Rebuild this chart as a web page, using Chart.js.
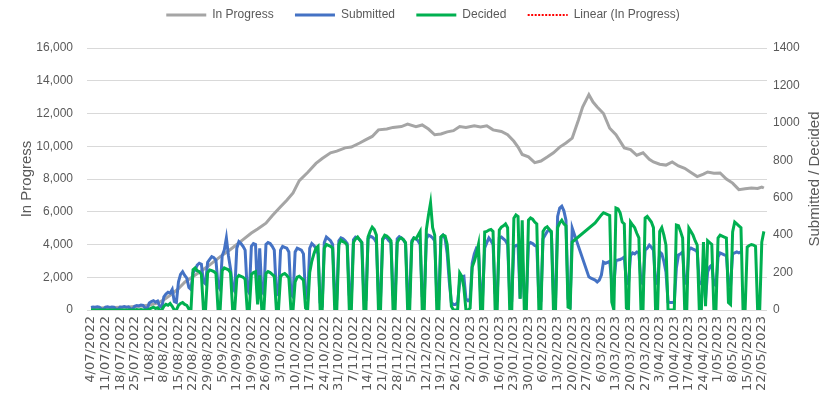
<!DOCTYPE html>
<html><head><meta charset="utf-8">
<script src="https://cdn.jsdelivr.net/npm/chart.js@4.4.0/dist/chart.umd.min.js"></script>
<style>html,body{margin:0;padding:0;background:#fff}#wrap{width:824px;height:401px;position:relative}</style>
</head><body><div id="wrap"><canvas id="c" width="824" height="401"></canvas></div>
<script>
// ---- DATA ----
const startLabel = '4/07/2022';
const tickLabels = ['4/07/2022','11/07/2022','18/07/2022','25/07/2022','1/08/2022','8/08/2022','15/08/2022','22/08/2022','29/08/2022','5/09/2022','12/09/2022','19/09/2022','26/09/2022','3/10/2022','10/10/2022','17/10/2022','24/10/2022','31/10/2022','7/11/2022','14/11/2022','21/11/2022','28/11/2022','5/12/2022','12/12/2022','19/12/2022','26/12/2022','2/01/2023','9/01/2023','16/01/2023','23/01/2023','30/01/2023','6/02/2023','13/02/2023','20/02/2023','27/02/2023','6/03/2023','13/03/2023','20/03/2023','27/03/2023','3/04/2023','10/04/2023','17/04/2023','24/04/2023','1/05/2023','8/05/2023','15/05/2023','22/05/2023'];

// In Progress (left axis): sampled days since 4/07/2022 and values
const ipDays = [0,4,7,11,14,18,21,25,28,32,35,38,42,45,49,52,56,59,63,66,70,73,77,80,84,87,91,94,97,100,104,108,111,115,118,122,125,129,132,135,138,142,145,149,152,156,159,162,165,168,171,174,177,180,184,187,190,193,197,200,203,205,207,210,213,216,219,222,225,228,231,234,236,239,241,243,246,249,252,256,259,262,265,268,270,273,276,279,282,285,288,291,294,296,299,302,305,308,311,314,317,320,322,323];
const ipValues = [100,115,130,150,170,190,220,250,300,420,620,900,1300,1700,2050,2300,2650,2950,3350,3600,4000,4300,4700,4950,5300,5750,6300,6700,7150,7900,8400,8950,9250,9600,9700,9900,9950,10200,10400,10600,11000,11050,11150,11200,11350,11200,11300,11050,10700,10750,10880,10950,11200,11150,11250,11180,11250,11000,10900,10700,10300,9950,9500,9350,9000,9100,9340,9600,9950,10200,10500,11600,12400,13150,12700,12400,12000,11100,10700,9900,9800,9450,9600,9200,9040,8900,8850,9040,8800,8650,8400,8150,8300,8430,8350,8370,8000,7750,7350,7400,7450,7420,7510,7450];

// Submitted (right axis), daily from 4/07/2022 (one row per week, Mon..Sun)
const submitted = [
  14,16,15,17,15,6,4,
  15,17,14,16,15,5,4,
  16,15,18,15,17,6,5,
  20,24,22,26,25,10,8,
  38,45,50,42,48,20,15,
  70,85,95,90,110,45,40,
  150,190,205,185,170,120,110,
  200,214,240,250,245,150,140,
  255,270,285,280,265,130,110,
  290,320,385,290,220,120,100,
  330,365,355,340,320,110,90,
  340,355,350,60,330,100,85,
  350,360,355,340,320,90,80,
  320,340,335,330,310,85,70,
  310,330,325,320,300,80,60,
  330,355,345,330,300,40,30,
  360,390,380,370,350,80,70,
  370,385,380,370,355,80,70,
  375,390,385,375,360,75,65,
  380,395,390,380,360,80,70,
  375,390,385,370,360,80,70,
  380,392,385,375,355,80,75,
  370,385,380,370,350,75,70,
  380,400,395,385,370,80,70,
  390,400,380,300,150,40,30,
  30,40,150,176,180,60,50,
  60,250,300,330,320,90,80,
  331,360,385,370,350,90,70,
  385,390,380,370,350,70,60,
  337,345,347,60,300,70,60,
  350,360,355,345,340,70,60,
  380,400,420,430,410,80,60,
  500,545,555,530,480,60,37,
  438,null,null,null,null,null,null,
  null,177,170,165,160,150,160,
  187,256,250,255,260,150,140,
  265,267,270,275,283,150,140,
  290,305,300,310,305,150,140,
  320,330,347,335,320,150,140,
  310,300,260,203,43,40,40,
  43,224,294,300,310,150,140,
  320,331,325,320,310,150,140,
  170,60,203,230,240,140,130,
  283,305,300,295,290,140,130,
  300,305,310,305,310
];

// Decided (right axis), daily from 4/07/2022
const decided = [
  0,0,0,0,0,0,0,
  0,0,0,0,0,0,0,
  0,0,0,0,0,0,0,
  0,2,0,3,0,0,0,
  5,10,15,8,12,0,0,
  20,30,25,35,20,0,0,
  25,35,40,30,25,5,0,
  215,225,210,205,190,0,0,
  200,214,210,205,195,0,0,
  210,225,220,215,200,0,0,
  170,185,180,175,165,0,0,
  190,200,205,30,185,0,0,
  195,205,200,190,180,0,0,
  180,190,195,185,170,0,0,
  150,175,180,170,160,10,0,
  200,260,300,330,340,0,0,
  330,350,345,340,330,0,0,
  350,374,365,360,345,0,0,
  360,380,390,375,360,0,0,
  390,420,443,430,400,0,0,
  380,400,395,385,370,0,0,
  360,380,385,375,360,0,0,
  360,385,380,400,420,0,0,
  430,507,572,440,400,0,0,
  390,400,395,350,200,20,0,
  0,0,198,180,120,0,0,
  10,230,260,300,350,0,0,
  417,420,427,430,420,0,0,
  427,443,450,460,440,0,0,
  490,508,500,60,480,0,0,
  480,492,485,470,460,0,0,
  420,438,445,430,420,0,0,
  440,465,480,460,450,16,10,
  363,null,null,null,null,null,null,
  null,null,null,null,465,null,null,
  508,520,515,510,505,43,0,
  545,540,520,470,460,10,0,
  470,454,440,410,385,0,0,
  492,500,485,470,440,0,0,
  420,440,400,347,0,0,0,
  0,454,450,420,385,0,0,
  438,420,400,370,347,0,0,
  363,20,370,360,350,0,0,
  385,400,395,390,385,40,30,
  417,470,460,450,440,0,0,
  337,345,350,347,340,0,0,
  363,420
];

const leftTitle = 'In Progress';
const rightTitle = 'Submitted / Decided';

// ---- BUILD ----
function toUTC(label){ const p = label.split('/').map(Number); return Date.UTC(p[2], p[1]-1, p[0]); }
const t0 = toUTC(startLabel);
const tickDays = tickLabels.map(l => Math.round((toUTC(l) - t0) / 86400000));
const series = arr => arr.map((v, i) => ({x: i, y: v}));
const ipPoints = ipDays.map((d, i) => ({x: d, y: ipValues[i]}));
const TXT = '#595959';

const legendSpacer = {
  id: 'legendSpacer',
  beforeLayout(chart){
    const lg = chart.legend;
    if (lg && !lg._patched){
      const orig = lg.fit;
      lg.fit = function(){ orig.call(this); this.height += 17; };
      lg._patched = true;
    }
  },
  afterLayout(chart){
    const lg = chart.legend;
    if (lg){ lg.left += 11; lg.right += 11; }
  }
};
const rightTitlePlugin = {
  id: 'rightTitle',
  afterDraw(chart){
    const {ctx, chartArea} = chart;
    ctx.save();
    ctx.translate(815, (chartArea.top + chartArea.bottom) / 2);
    ctx.rotate(-Math.PI / 2);
    ctx.font = '15px "Liberation Sans"';
    ctx.fillStyle = TXT;
    ctx.textAlign = 'center';
    ctx.textBaseline = 'middle';
    ctx.fillText(rightTitle, 0, 0);
    ctx.restore();
  }
};

new Chart(document.getElementById('c'), {
  type: 'line',
  data: {
    datasets: [
      {label: 'In Progress', data: ipPoints, yAxisID: 'y', borderColor: '#A5A5A5', backgroundColor: '#A5A5A5', borderWidth: 3, pointRadius: 0, order: 3},
      {label: 'Submitted', data: series(submitted), yAxisID: 'y1', borderColor: '#4472C4', backgroundColor: '#4472C4', borderWidth: 3, pointRadius: 0, spanGaps: true, order: 2},
      {label: 'Decided', data: series(decided), yAxisID: 'y1', borderColor: '#00B050', backgroundColor: '#00B050', borderWidth: 3, pointRadius: 0, spanGaps: true, order: 1},
      {label: 'Linear (In Progress)', data: [], yAxisID: 'y', borderColor: '#FF0000', backgroundColor: '#FF0000', borderWidth: 2, borderDash: [2, 1.5], pointRadius: 0, order: 4}
    ]
  },
  options: {
    responsive: false,
    devicePixelRatio: 1,
    animation: false,
    layout: {padding: {top: 1, left: 0, right: 0, bottom: 0}},
    plugins: {
      tooltip: {enabled: false},
      legend: {
        position: 'top',
        labels: {
          font: {family: 'Liberation Sans', size: 12},
          color: TXT,
          usePointStyle: true,
          pointStyle: 'line',
          pointStyleWidth: 40,
          boxHeight: 12,
          padding: 8,
          generateLabels(chart){
            const items = Chart.defaults.plugins.legend.labels.generateLabels(chart);
            items.sort((a, b) => a.datasetIndex - b.datasetIndex);
            items.forEach((it, i) => {
              const ds = chart.data.datasets[it.datasetIndex];
              it.lineWidth = ds.borderWidth;
              it.lineDash = ds.borderDash || [];
              it.strokeStyle = ds.borderColor;
              if (i < items.length - 1) it.text += '    ';
            });
            return items;
          }
        }
      }
    },
    scales: {
      x: {
        type: 'linear',
        min: -1.9,
        max: 324.5,
        afterBuildTicks(s){ s.ticks = tickDays.map(v => ({value: v})); },
        afterFit(s){ s.height = 91; },
        ticks: {
          autoSkip: false, minRotation: 90, maxRotation: 90, padding: 6,
          callback: (v, i) => tickLabels[i],
          font: {family: 'DejaVu Sans', size: 13}, color: TXT
        },
        grid: {display: false, drawTicks: false},
        border: {display: false}
      },
      y: {
        position: 'left', min: 0, max: 16000,
        afterFit(s){ s.width = 87; },
        ticks: {stepSize: 2000, padding: 14, callback: v => v.toLocaleString('en-US'), font: {family: 'Liberation Sans', size: 12}, color: TXT},
        grid: {color: '#D9D9D9', drawTicks: false},
        border: {display: false},
        title: {display: true, text: leftTitle, font: {family: 'Liberation Sans', size: 15}, color: TXT, padding: {top: 18, bottom: 0}}
      },
      y1: {
        position: 'right', min: 0, max: 1400,
        afterFit(s){ s.width = 57; },
        ticks: {stepSize: 200, padding: 6, callback: v => String(v), font: {family: 'Liberation Sans', size: 12}, color: TXT},
        grid: {display: false, drawTicks: false},
        border: {display: false}
      }
    }
  },
  plugins: [legendSpacer, rightTitlePlugin]
});
</script>
</body></html>
